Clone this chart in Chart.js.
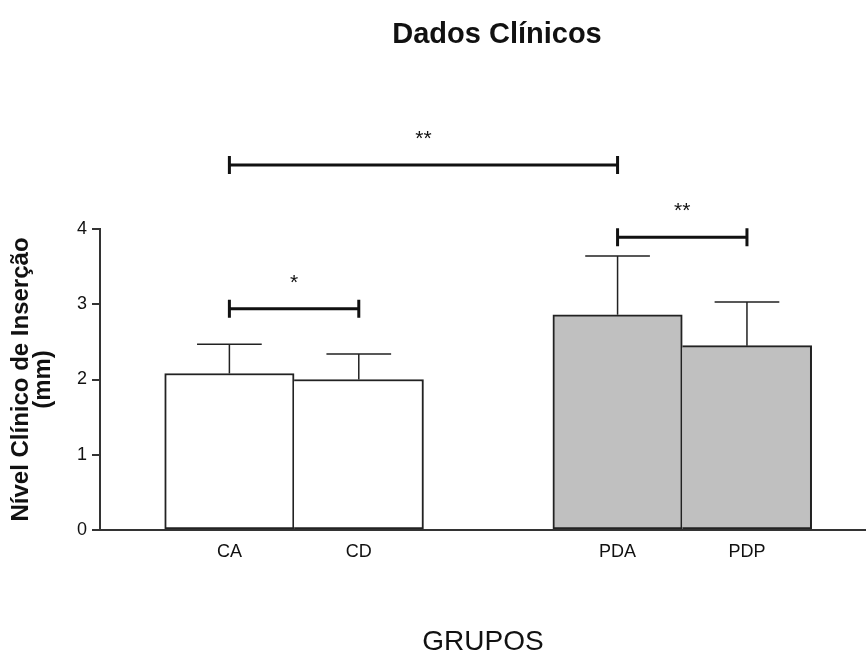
<!DOCTYPE html>
<html>
<head>
<meta charset="utf-8">
<title>Dados Clínicos</title>
<style>
    html, body { margin: 0; padding: 0; background: #fff; }
    #wrap { width: 866px; height: 653px; position: relative; }
</style>
</head>
<body>
<div id="wrap"><canvas id="chart"></canvas></div>

<script src="https://cdn.jsdelivr.net/npm/chart.js"></script>
<script>
    // data
    const categories = ['CA', 'CD', 'PDA', 'PDP'];
    const means = [2.08, 2.00, 2.86, 2.45];
    const sds = [0.39, 0.34, 0.78, 0.58];
    const yTicks = [0, 1, 2, 3, 4];

    // significance brackets: from, to, label, height (mm)
    const sigFrom = ['CA', 'PDA', 'CA'];
    const sigTo = ['CD', 'PDP', 'PDA'];
    const sigText = ['*', '**', '**'];
    const sigLevel = [2.94, 3.89, 4.85];

    // layout: group slots along x (gap between control and periodontitis groups)
    const slots = [1, 2, 4, 5];
    const barFill = ['#ffffff', '#ffffff', '#c0c0c0', '#c0c0c0'];
    const FONT = '"Liberation Sans", Arial, Helvetica, sans-serif';
    const INK = '#222';

    const slotOf = name => slots[categories.indexOf(name)];

    // error bars + brackets + title
    const extras = {
        id: 'extras',
        afterDatasetsDraw(chart) {
            const ctx = chart.ctx;
            const xs = chart.scales.x, ys = chart.scales.y;
            const bars = chart.getDatasetMeta(0).data;

            ctx.save();
            ctx.strokeStyle = INK;
            ctx.lineWidth = 1.5;
            bars.forEach((bar, i) => {
                const yTop = ys.getPixelForValue(means[i] + sds[i]);
                const half = bar.width / 4;
                ctx.beginPath();
                ctx.moveTo(bar.x, bar.y);
                ctx.lineTo(bar.x, yTop);
                ctx.moveTo(bar.x - half, yTop);
                ctx.lineTo(bar.x + half, yTop);
                ctx.stroke();
            });

            ctx.lineWidth = 3;
            ctx.strokeStyle = '#111';
            ctx.fillStyle = '#111';
            ctx.font = '21px ' + FONT;
            ctx.textAlign = 'center';
            ctx.textBaseline = 'alphabetic';
            sigText.forEach((txt, i) => {
                const x1 = xs.getPixelForValue(slotOf(sigFrom[i]));
                const x2 = xs.getPixelForValue(slotOf(sigTo[i]));
                const y = ys.getPixelForValue(sigLevel[i]);
                ctx.beginPath();
                ctx.moveTo(x1, y); ctx.lineTo(x2, y);
                ctx.moveTo(x1, y - 9); ctx.lineTo(x1, y + 9);
                ctx.moveTo(x2, y - 9); ctx.lineTo(x2, y + 9);
                ctx.stroke();
                ctx.fillText(txt, (x1 + x2) / 2, y - 20);
            });
            ctx.restore();
        },
        afterDraw(chart) {
            const ctx = chart.ctx, area = chart.chartArea;
            ctx.save();
            ctx.fillStyle = '#111';
            ctx.font = 'bold 29px ' + FONT;
            ctx.textAlign = 'center';
            ctx.textBaseline = 'alphabetic';
            ctx.fillText('Dados Clínicos', (area.left + area.right) / 2 + 14, 43);
            ctx.restore();
        }
    };

    new Chart(document.getElementById('chart'), {
        type: 'bar',
        data: {
            datasets: [{
                data: categories.map((c, i) => ({ x: slots[i], y: means[i] })),
                backgroundColor: barFill,
                borderColor: INK,
                borderWidth: 2,
                // neighbouring bars share one edge
                borderSkipped: ctx => (ctx.dataIndex === 1 || ctx.dataIndex === 3) ? 'left' : false,
                barPercentage: 1,
                categoryPercentage: 1
            }]
        },
        options: {
            responsive: true,
            maintainAspectRatio: false,
            animation: false,
            layout: { padding: { top: 229, left: 0, right: 0, bottom: 0 } },
            plugins: {
                legend: { display: false },
                title: { display: false },
                tooltip: { enabled: false }
            },
            scales: {
                x: {
                    type: 'linear',
                    min: 0,
                    max: 5.92,
                    offset: false,
                    afterBuildTicks: s => { s.ticks = slots.map(v => ({ value: v })); },
                    afterFit: s => { s.height = 123; },
                    grid: { display: false, drawTicks: false },
                    border: { display: true, color: '#333', width: 2 },
                    ticks: {
                        autoSkip: false,
                        maxRotation: 0,
                        padding: 11,
                        color: '#111',
                        font: { family: FONT, size: 18 },
                        callback: v => categories[slots.indexOf(v)]
                    },
                    title: {
                        display: true,
                        text: 'GRUPOS',
                        color: '#111',
                        font: { family: FONT, size: 28, lineHeight: 0.8 },
                        padding: { top: 0, bottom: 0 }
                    }
                },
                y: {
                    min: 0,
                    max: 4,
                    afterBuildTicks: s => { s.ticks = yTicks.map(v => ({ value: v })); },
                    afterFit: s => { s.width = 100; },
                    grid: {
                        display: true,
                        drawOnChartArea: false,
                        drawTicks: true,
                        tickLength: 8,
                        color: '#333',
                        lineWidth: 2
                    },
                    border: { display: true, color: '#333', width: 2 },
                    ticks: {
                        padding: 5,
                        color: '#111',
                        font: { family: FONT, size: 18 }
                    },
                    title: {
                        display: true,
                        text: ['Nível Clínico de Inserção', '(mm)'],
                        color: '#111',
                        font: { family: FONT, size: 24, weight: 'bold', lineHeight: 0.9 },
                        padding: { top: 11, bottom: 0 }
                    }
                }
            }
        },
        plugins: [extras]
    });
</script>
</body>
</html>
